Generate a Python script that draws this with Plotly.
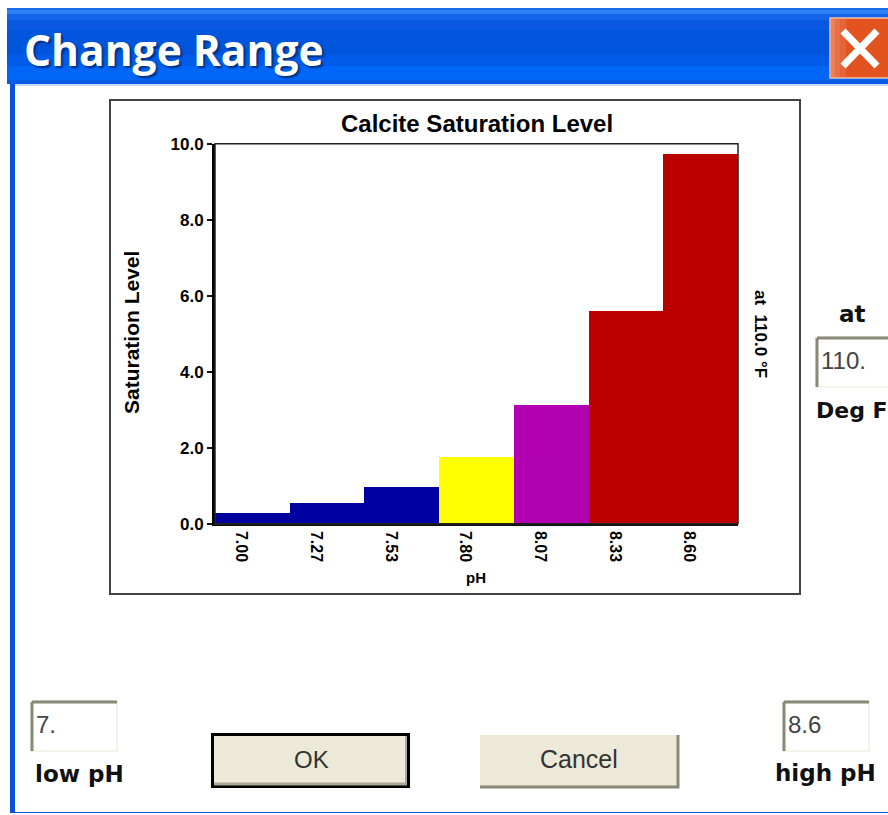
import plotly.graph_objects as go

W, H = 888, 815

# ---------- data ----------
ph_labels = ["7.00", "7.27", "7.53", "7.80", "8.07", "8.33", "8.60"]
saturation = [0.29, 0.55, 0.97, 1.76, 3.12, 5.60, 9.75]
bar_colors = ["#0000A0", "#0000A0", "#0000A0", "#FFFF00", "#B000B0", "#BB0000", "#BB0000"]
y_ticks = [0, 2, 4, 6, 8, 10]

chart_title = "Calcite Saturation Level"
y_title = "Saturation Level"
x_title = "pH"
side_note = "at  110.0 °F"

FONT = "Liberation Sans"
UI = "DejaVu Sans"


def px(x):
    return x / W


def py(y):
    return 1 - y / H


shapes = []


def rect(x0, y0, x1, y1, fill, line=None, lw=0, layer="below"):
    shapes.append(dict(type="rect", xref="paper", yref="paper", x0=px(x0), x1=px(x1),
                       y0=py(y0), y1=py(y1), fillcolor=fill, layer=layer,
                       line=dict(color=line or fill, width=lw)))


def seg(x0, y0, x1, y1, color, lw, layer="below"):
    shapes.append(dict(type="line", xref="paper", yref="paper", x0=px(x0), x1=px(x1),
                       y0=py(y0), y1=py(y1), layer=layer, line=dict(color=color, width=lw)))


annotations = []


def text(x, y, s, size, color="#000000", weight=400, family=FONT, angle=0, anchor="center", shadow=None):
    font = dict(size=size, color=color, family=family, weight=weight)
    if shadow:
        font["shadow"] = shadow
    annotations.append(dict(xref="paper", yref="paper", x=px(x), y=py(y), text=s, showarrow=False,
                            xanchor=anchor, yanchor="middle", textangle=angle, font=font,
                            borderpad=0, borderwidth=0))


# ---------- window chrome ----------
rect(10, 8, W, 813, "#0A50E0")
rect(15, 84, W, 812, "#FFFFFF")
title_bands = [(8, 10, "#1E6BEA"), (10, 14, "#2F80F5"), (14, 20, "#1464EC"), (20, 30, "#0A58E2"),
               (30, 55, "#0055DD"), (55, 66, "#005CE8"), (66, 80, "#0066F8"), (80, 84, "#0A5CE6")]
for top, bottom, color in title_bands:
    rect(7, top, W, bottom, color)
rect(10, 84, 15, 813, "#0A50E0")
rect(15, 84, W, 86, "#C8D8F0")
text(24, 50, "Change Range", 42.5, "#FFFFFF", 700, "Open Sans", anchor="left", shadow="2px 2px 2px #003080")

# close button
rect(830, 18, 888, 78, "#E0562A", "#F4C0A8", 1.5)
close_bands = [(831, 835, "#EC8058"), (835, 840, "#E87048"), (840, 846, "#E66238"), (846, 888, "#E2531F")]
for left, right, color in close_bands:
    rect(left, 19, right, 77, color)
seg(843, 31, 877, 66, "#FFFFFF", 7)
seg(877, 31, 843, 66, "#FFFFFF", 7)

# chart frame
rect(110, 100, 800, 594, "#FFFFFF", "#444444", 2)

# text inputs
for x0, y0, x1, y1, label in [(31, 701, 117, 751, "7."), (783, 701, 869, 751, "8.6"), (816, 337, 892, 387, "110.")]:
    rect(x0, y0, x1, y1, "#FFFFFF", "#F1EFE2", 1.5)
    seg(x0 + 1, y0 + 1, x1, y0 + 1, "#8A8878", 3)
    seg(x0 + 1, y0 + 1, x0 + 1, y1, "#8A8878", 3)
    text(x0 + 5, y0 + 23, label, 24, "#444444", 400, FONT, anchor="left")

# buttons
rect(211, 733, 410, 788, "#000000")
rect(214, 736, 407, 785, "#ECE9D8")
seg(214, 784, 407, 784, "#ACA899", 3)
seg(406, 736, 406, 785, "#ACA899", 2)
text(311, 759, "OK", 24, "#333333", 400, FONT)

rect(480, 735, 679, 788, "#ECE9D8")
seg(480, 787, 679, 787, "#8A8878", 3)
seg(678, 735, 678, 788, "#8A8878", 3)
text(579, 759, "Cancel", 25, "#333333", 400, FONT)

# dialog labels
text(852, 314, "at", 23, "#111111", 700, UI)
text(816, 410, "Deg F", 22, "#111111", 700, UI, anchor="left")
text(79, 774, "low pH", 23, "#111111", 700, UI)
text(825, 773, "high pH", 23, "#111111", 700, UI)

# chart texts
text(477, 123, chart_title, 24, "#000000", 700)
text(131, 333, y_title, 21, "#000000", 700, angle=-90)
text(476, 577, x_title, 15, "#000000", 700)
text(761, 334, side_note, 17, "#000000", 700, angle=90)

# plot-area outline
shapes.append(dict(type="rect", xref="x domain", yref="y domain", x0=0, x1=1, y0=0, y1=1,
                   layer="above", line=dict(color="#222222", width=1.5)))

fig = go.Figure(go.Bar(x=list(range(len(ph_labels))), y=saturation,
                       marker=dict(color=bar_colors, line=dict(width=0)),
                       width=1.0, hoverinfo="skip"))

fig.update_layout(
    width=W, height=H, autosize=False,
    margin=dict(l=0, r=0, t=0, b=0, pad=0, autoexpand=False),
    paper_bgcolor="#FFFFFF", plot_bgcolor="rgba(0,0,0,0)",
    showlegend=False, bargap=0,
    shapes=shapes, annotations=annotations,
    xaxis=dict(domain=[px(215), px(738)], range=[-0.5, 6.5], tickmode="array",
               tickvals=list(range(len(ph_labels))), ticktext=ph_labels,
               tickangle=90, ticks="", ticklabelshift=-11, ticklabelstandoff=2,
               tickfont=dict(family=FONT, size=16, color="#000000", weight=700),
               showgrid=False, zeroline=False, showline=True, linecolor="#111111", linewidth=2),
    yaxis=dict(domain=[py(523.7), py(143.7)], range=[0, 10], tickmode="array",
               tickvals=y_ticks, tickformat=".1f", ticks="outside", ticklen=5, tickwidth=2,
               tickcolor="#111111",
               tickfont=dict(family=FONT, size=17, color="#000000", weight=700),
               showgrid=False, zeroline=False, showline=True, linecolor="#000000", linewidth=3),
)

fig.write_html("out.html", config={"displayModeBar": False},
               post_script="document.body.style.margin='0';document.body.style.overflow='hidden';")
